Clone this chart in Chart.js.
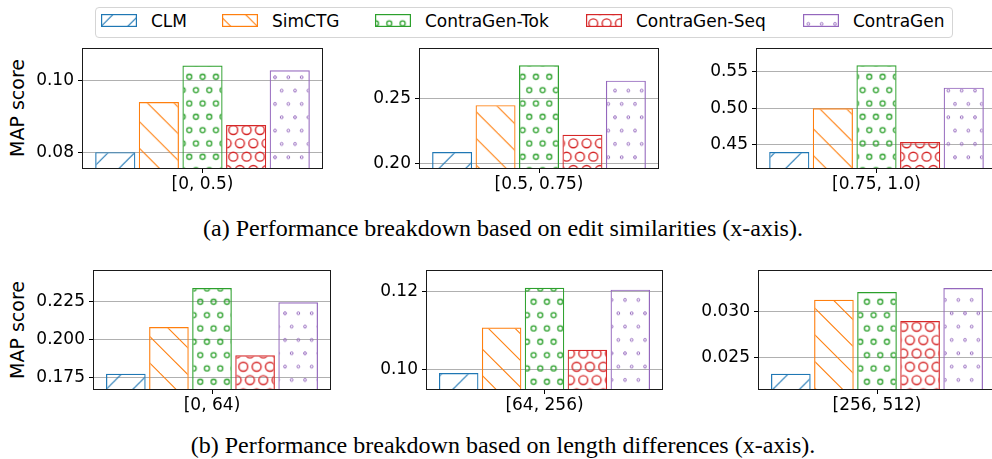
<!DOCTYPE html>
<html><head><meta charset="utf-8">
<script src="https://cdn.jsdelivr.net/npm/chart.js@4.4.1/dist/chart.umd.min.js"></script>
<style>
html,body{margin:0;padding:0;background:#fff;overflow:hidden;width:992px;height:459px;}
#wrap{position:relative;width:992px;height:459px;overflow:hidden;}
canvas.c{position:absolute;}
.t{position:absolute;font-family:"DejaVu Sans";font-size:17px;line-height:20px;color:#000;white-space:nowrap;}
.yl{position:absolute;font-family:"DejaVu Sans";font-size:19px;line-height:19px;color:#000;white-space:nowrap;transform:translate(-50%,-50%) rotate(-90deg);}
.cap{position:absolute;left:3px;width:1000px;text-align:center;font-family:"Liberation Serif";font-size:24px;line-height:27px;color:#000;white-space:nowrap;}
#legend{position:absolute;left:95px;top:7px;width:856px;height:29px;border:1px solid #d5d5d5;border-radius:4px;background:#fff;}
</style></head>
<body><div id="wrap">
<div id="legend"></div>
<div class="yl" style="left:17px;top:108px">MAP score</div>
<div class="yl" style="left:17px;top:330px">MAP score</div>
<div class="cap" style="top:215px">(a) Performance breakdown based on edit similarities (x-axis).</div>
<div class="cap" style="top:432px">(b) Performance breakdown based on length differences (x-axis).</div>
</div>
<script>
// ---- data ----
const categories = ['[0, 0.5)', '[0.5, 0.75)', '[0.75, 1.0)', '[0, 64)', '[64, 256)', '[256, 512)'];
const methods = ['CLM', 'SimCTG', 'ContraGen-Tok', 'ContraGen-Seq', 'ContraGen'];
const clmScores      = [0.0800, 0.2091, 0.4395, 0.1774, 0.0992, 0.02327];
const simctgScores   = [0.0940, 0.2447, 0.5000, 0.2083, 0.1108, 0.03125];
const tokScores      = [0.1042, 0.2750, 0.5592, 0.2341, 0.1209, 0.03208];
const seqScores      = [0.0876, 0.2222, 0.4533, 0.1896, 0.1051, 0.02895];
const contragenScores= [0.1029, 0.2633, 0.5284, 0.2246, 0.1204, 0.03252];
const yMin = [0.0753, 0.1962, 0.4161, 0.1666, 0.0949, 0.02151];
const yMax = [0.1091, 0.2881, 0.5831, 0.2460, 0.1254, 0.03446];
const yTicks = [[0.08, 0.10], [0.20, 0.25], [0.45, 0.50, 0.55], [0.175, 0.200, 0.225], [0.10, 0.12], [0.025, 0.030]];
const yTickLabels = [['0.08', '0.10'], ['0.20', '0.25'], ['0.45', '0.50', '0.55'], ['0.175', '0.200', '0.225'], ['0.10', '0.12'], ['0.025', '0.030']];
const yLabel = 'MAP score';

// ---- style ----
const series = [clmScores, simctgScores, tokScores, seqScores, contragenScores];
const colors = ['#1f77b4', '#ff7f0e', '#2ca02c', '#d62728', '#9467bd'];
const hatches = ['/', '\\', 'o', 'O', '.'];
const frames = [
  {l: 82, t: 48, w: 241, h: 121},
  {l: 419, t: 48, w: 240, h: 121},
  {l: 756, t: 48, w: 241, h: 121},
  {l: 93, t: 270, w: 238, h: 120},
  {l: 426, t: 270, w: 237, h: 120},
  {l: 758, t: 270, w: 238, h: 120}
];
const anchorsTop = {'/': [20.7, 0], '\\': [17.7, 0], 'o': [189.3, 76.7], 'O': [233.3, 130], '.': [275, 77.3]};
const anchorsBottom = {'/': [15.5, 0], '\\': [0, 0], 'o': [200.3, 301.7], 'O': [243.3, 366.7], '.': [285, 313.3]};
const YW = 70, XH = 30, PT = 16, PR = 4;
const U = 80, S = U / 6;

function makeTile(kind, color) {
  const c = document.createElement('canvas');
  c.width = U; c.height = U;
  const g = c.getContext('2d');
  g.strokeStyle = color; g.fillStyle = color; g.lineWidth = 1.1;
  if (kind === '/' || kind === '\\') {
    const p = U / 3;
    for (let k = -6; k <= 9; k++) {
      const c0 = k * p;
      g.beginPath();
      if (kind === '/') { g.moveTo(c0 + 10, -10); g.lineTo(c0 - 100, 100); }
      else { g.moveTo(c0 - 10, -10); g.lineTo(c0 + 100, 100); }
      g.stroke();
    }
  } else {
    let r = 2.5, lw = 1.3;
    if (kind === 'O') { r = 4.45; lw = 1.4; }
    if (kind === '.') { r = 1.4; lw = 1.0; }
    g.lineWidth = lw;
    for (let row = 0; row <= 6; row++) {
      const y = row * S;
      const xs = [];
      if (row % 2 === 0) for (let c2 = 0; c2 <= 6; c2++) xs.push(c2 * S);
      else for (let c2 = 0; c2 < 6; c2++) xs.push(S / 2 + c2 * S);
      xs.forEach(x => { g.beginPath(); g.arc(x, y, r, 0, Math.PI * 2); g.stroke(); });
    }
  }
  return c;
}
const tiles = hatches.map((h, i) => makeTile(h, colors[i]));

function makePattern(ctx, i, anchors, left, top) {
  const p = ctx.createPattern(tiles[i], 'repeat');
  const a = anchors[hatches[i]];
  p.setTransform(new DOMMatrix([1, 0, 0, 1, a[0] - left, a[1] - top]));
  return p;
}

const framePlugin = {
  id: 'frame',
  afterDraw(ch) {
    const a = ch.chartArea, g = ch.ctx;
    g.save();
    g.strokeStyle = '#1a1a1a'; g.lineWidth = 1;
    g.strokeRect(a.left + 0.5, a.top + 0.5, a.right - a.left - 1, a.bottom - a.top - 1);
    g.restore();
  }
};

const wrap = document.getElementById('wrap');
frames.forEach((f, p) => {
  const cv = document.createElement('canvas');
  cv.className = 'c';
  const W = YW + f.w + PR, H = PT + f.h + XH;
  cv.width = W; cv.height = H;
  cv.style.width = W + 'px'; cv.style.height = H + 'px';
  const left = f.l - YW, top = f.t - PT;
  cv.style.left = left + 'px'; cv.style.top = top + 'px';
  wrap.appendChild(cv);
  const ctx = cv.getContext('2d');
  const anchors = p < 3 ? anchorsTop : anchorsBottom;
  const datasets = methods.map((m, i) => ({
    label: m,
    data: [series[i][p]],
    backgroundColor: makePattern(ctx, i, anchors, left, top),
    borderColor: colors[i],
    borderWidth: 1.2,
    borderSkipped: 'start',
    categoryPercentage: 0.905,
    barPercentage: 0.92
  }));
  const font = {family: 'DejaVu Sans', size: 17};
  const ch = new Chart(cv, {
    type: 'bar',
    data: {labels: [categories[p]], datasets},
    options: {
      responsive: false, animation: false, devicePixelRatio: 1,
      layout: {padding: {top: PT, right: PR, left: 0, bottom: 0}},
      plugins: {legend: {display: false}, tooltip: {enabled: false}},
      scales: {
        x: {
          offset: true,
          grid: {display: true, drawOnChartArea: false, drawTicks: true, tickLength: 4, tickColor: '#000', tickWidth: 1, offset: false},
          border: {display: false},
          ticks: {font, color: '#000', padding: 1, maxRotation: 0, autoSkip: false},
          afterFit: s => { s.height = XH; }
        },
        y: {
          min: yMin[p], max: yMax[p],
          grid: {color: '#b0b0b0', lineWidth: 1, drawTicks: true, tickLength: 4, tickColor: '#000', tickWidth: 1},
          border: {display: false},
          ticks: {font, color: '#000', padding: 4, callback: (v, i) => yTickLabels[p][i]},
          afterBuildTicks: s => { s.ticks = yTicks[p].map(v => ({value: v})); },
          afterFit: s => { s.width = YW; }
        }
      }
    },
    plugins: [framePlugin]
  });
  const a = ch.chartArea;
  cv.style.left = (f.l - a.left) + 'px';
  cv.style.top = (f.t - a.top) + 'px';
});

// legend
const legend = document.getElementById('legend');
const legPatch = [101, 222, 375, 586, 803];
const legText = [151, 272, 425, 636, 853];
methods.forEach((m, i) => {
  const pc = document.createElement('canvas');
  pc.width = 36; pc.height = 13;
  pc.style.position = 'absolute';
  const pl = legPatch[i], pt = 14;
  pc.style.left = pl + 'px'; pc.style.top = pt + 'px';
  wrap.appendChild(pc);
  const g = pc.getContext('2d');
  g.fillStyle = makePattern(g, i, anchorsTop, pl, pt);
  g.fillRect(0, 0, 36, 13);
  g.strokeStyle = colors[i]; g.lineWidth = 1.2;
  g.strokeRect(0.6, 0.6, 34.8, 11.8);
  const t = document.createElement('div');
  t.className = 't';
  t.textContent = m;
  t.style.left = legText[i] + 'px'; t.style.top = '11px';
  wrap.appendChild(t);
});
</script>
</body></html>
